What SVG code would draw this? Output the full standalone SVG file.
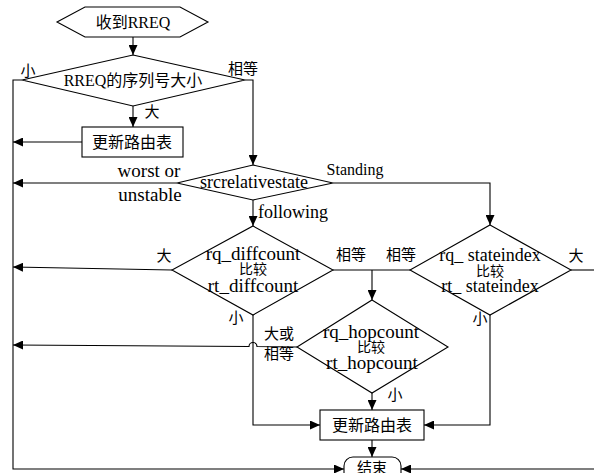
<svg xmlns="http://www.w3.org/2000/svg" width="594" height="473" viewBox="0 0 594 473">
<defs>
<marker id="ah" markerUnits="userSpaceOnUse" markerWidth="11" markerHeight="9" refX="10" refY="4.5" orient="auto">
<path d="M0,0 L10,4.5 L0,9 z" fill="#000"/>
</marker>
</defs>
<style>
.s{fill:#fff;stroke:#000;stroke-width:1.1}
.c{fill:none;stroke:#000;stroke-width:1.1}
.a{marker-end:url(#ah)}
text{font-family:"Liberation Serif","Noto Sans CJK SC",serif;fill:#000;text-anchor:middle;dominant-baseline:central}
.cn{font-size:14px}
.l{font-size:15px}
</style>
<rect width="594" height="473" fill="#fff"/>
<g id="connectors">
<path class="c a" d="M133,37 L133,55"/>
<path class="c a" d="M22,80 L13,80 L13,469 L344,469"/>
<path class="c a" d="M594,469 L401,469"/>
<path class="c a" d="M245,80 L253,80 L253,165"/>
<path class="c a" d="M133,106 L133,127"/>
<path class="c a" d="M82,142 L13,142"/>
<path class="c a" d="M177,183 L13,183"/>
<path class="c a" d="M333,183 L490,183 L490,225"/>
<path class="c a" d="M253,200 L253,226"/>
<path class="c a" d="M172,270 L13,267"/>
<path class="c" d="M333,270 L410,270"/>
<path class="c a" d="M372,270 L372,300"/>
<path class="c" d="M571,270 L594,270"/>
<path class="c a" d="M490,315 L490,425 L424,425"/>
<path class="c a" d="M253,315 L253,425 L320,425"/>
<path class="c a" d="M297,347 L257,346.5 A4,4 0 0 0 249,346.5 L13,345"/>
<path class="c a" d="M372,393 L372,410"/>
<path class="c a" d="M372,440 L372,457"/>
</g>
<g id="start">
<polygon class="s" points="57,22 85,7 180,7 208,22 180,37 85,37"/>
<text x="133" y="22" style="font-size:16px">收到RREQ</text>
</g>
<g id="seq">
<polygon class="s" points="133,55 245,80 133,106 22,80"/>
<text x="133" y="80" style="font-size:16px">RREQ的序列号大小</text>
<text class="l" x="28" y="71">小</text>
<text class="l" x="243" y="69">相等</text>
<text class="l" x="152" y="112">大</text>
</g>
<g id="update1">
<rect class="s" x="82" y="127" width="101" height="30"/>
<text x="132" y="142" style="font-size:16px">更新路由表</text>
</g>
<g id="src">
<polygon class="s" points="253,165 333,183 253,200 177,183"/>
<text x="254" y="182" style="font-size:18px">srcrelativestate</text>
<text x="149" y="170" style="font-size:19px">worst or</text>
<text x="150" y="194" style="font-size:19px">unstable</text>
<text x="355" y="169" style="font-size:16px">Standing</text>
<text x="258" y="212" style="font-size:18px;text-anchor:start">following</text>
</g>
<g id="diff">
<polygon class="s" points="253,226 333,270 253,315 172,270"/>
<text x="253" y="253" style="font-size:19px">rq_diffcount</text>
<text class="cn" x="253" y="269">比较</text>
<text x="253" y="285" style="font-size:19px">rt_diffcount</text>
<text class="l" x="164" y="256">大</text>
<text class="l" x="351" y="255">相等</text>
<text class="l" x="236" y="318">小</text>
</g>
<g id="state">
<polygon class="s" points="490,225 571,270 490,315 410,270"/>
<text x="490" y="255" style="font-size:18px">rq_ stateindex</text>
<text class="cn" x="490" y="271">比较</text>
<text x="490" y="286" style="font-size:18px">rt_ stateindex</text>
<text class="l" x="401" y="255">相等</text>
<text class="l" x="576" y="256">大</text>
<text class="l" x="480" y="319">小</text>
</g>
<g id="hop">
<polygon class="s" points="372,300 448,347 372,393 297,347"/>
<text x="371" y="331" style="font-size:19px">rq_hopcount</text>
<text class="cn" x="371" y="347">比较</text>
<text x="372" y="362" style="font-size:19px">rt_hopcount</text>
<text class="l" x="279" y="334">大或</text>
<text class="l" x="279" y="354">相等</text>
<text class="l" x="395" y="395">小</text>
</g>
<g id="update2">
<rect class="s" x="320" y="410" width="104" height="30"/>
<text x="372" y="425" style="font-size:16px">更新路由表</text>
</g>
<g id="end">
<rect class="s" x="344" y="457" width="57" height="26" rx="9"/>
<text x="372" y="468" style="font-size:15px">结束</text>
</g>
</svg>
